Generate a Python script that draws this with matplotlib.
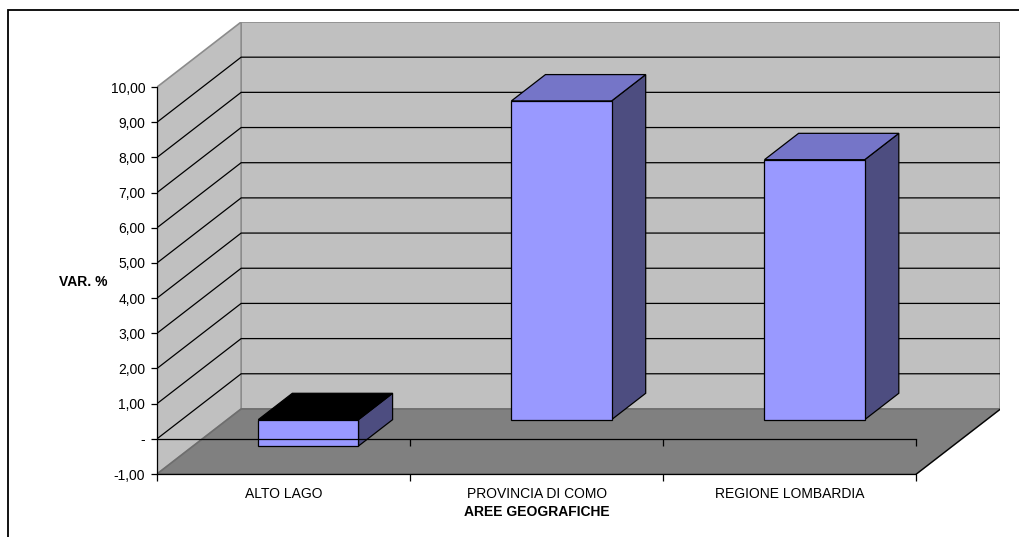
import numpy as np
import matplotlib.pyplot as plt
from matplotlib.patches import Polygon, Rectangle

categories = ['ALTO LAGO', 'PROVINCIA DI COMO', 'REGIONE LOMBARDIA']
values = [-0.75, 9.06, 7.39]
y_ticks = list(range(-1, 11))

# oblique shift of the full chart depth, in category / value units
DX = 84 / 252.67
DY = 65 / 35.15
D_FRONT, D_BACK = 0.295, 0.70
BAR_W = 0.396

WALL = '#C0C0C0'
FLOOR = '#808080'
FACE = '#9999FF'
SIDE = '#4D4D80'
TOP = '#7575C8'


def proj(x, v, d):
    return (x + d * DX, v + d * DY)


def fmt(v):
    if v == 0:
        return '-'
    return f'{v:.2f}'.replace('.', ',')


plt.rcParams['font.family'] = ['Liberation Sans', 'DejaVu Sans']
plt.rcParams['font.size'] = 10

fig = plt.figure(figsize=(10.2, 5.37), dpi=100)
ax = fig.add_axes([157 / 1020, 63 / 537, 843.5 / 1020, 452 / 537])
n = len(categories)
vmin, vmax = y_ticks[0], y_ticks[-1]
ax.set_xlim(0, n + DX)
ax.set_ylim(vmin, vmax + DY)
ax.patch.set_visible(False)

# walls and floor
back = [proj(0, vmin, 1), proj(n, vmin, 1), proj(n, vmax, 1), proj(0, vmax, 1)]
side = [proj(0, vmin, 0), proj(0, vmin, 1), proj(0, vmax, 1), proj(0, vmax, 0)]
floor = [proj(0, vmin, 0), proj(n, vmin, 0), proj(n, vmin, 1), proj(0, vmin, 1)]
ax.add_patch(Polygon(back, closed=True, fc=WALL, ec='#8C8C8C', lw=1.2, zorder=1))
ax.add_patch(Polygon(side, closed=True, fc=WALL, ec='#8C8C8C', lw=1.2, zorder=1))
ax.add_patch(Polygon(floor, closed=True, fc=FLOOR, ec='#6E6E6E', lw=1.2, zorder=1))
xr = [proj(n, vmin, 0)[0], proj(n, vmin, 1)[0]]
yr = [proj(n, vmin, 0)[1], proj(n, vmin, 1)[1]]
ax.plot(xr, yr, color='black', lw=0.9, zorder=2)

# gridlines on the back wall and the side wall
for v in y_ticks[1:-1]:
    p0, p1, p2 = proj(0, v, 0), proj(0, v, 1), proj(n, v, 1)
    ax.plot([p0[0], p1[0], p2[0]], [p0[1], p1[1], p2[1]], color='black', lw=0.9, zorder=2)

# columns
for i, v in enumerate(values):
    x0 = i + 0.5 - BAR_W / 2
    x1 = i + 0.5 + BAR_W / 2
    b, t = min(0, v), max(0, v)
    front = [proj(x0, b, D_FRONT), proj(x1, b, D_FRONT), proj(x1, t, D_FRONT), proj(x0, t, D_FRONT)]
    right = [proj(x1, b, D_FRONT), proj(x1, b, D_BACK), proj(x1, t, D_BACK), proj(x1, t, D_FRONT)]
    top = [proj(x0, t, D_FRONT), proj(x1, t, D_FRONT), proj(x1, t, D_BACK), proj(x0, t, D_BACK)]
    top_color = 'black' if v < 0 else TOP
    ax.add_patch(Polygon(right, closed=True, fc=SIDE, ec='black', lw=0.9, zorder=3))
    ax.add_patch(Polygon(top, closed=True, fc=top_color, ec='black', lw=0.9, zorder=3))
    ax.add_patch(Polygon(front, closed=True, fc=FACE, ec='black', lw=0.9, zorder=3))

# category axis at zero on the front plane
ax.plot([0, n], [0, 0], color='black', lw=0.9, zorder=4)
ax.vlines(np.arange(1, n + 1), -0.2, 0, color='black', lw=0.9, zorder=4)

# axes
for s in ['top', 'right']:
    ax.spines[s].set_visible(False)
ax.spines['left'].set_bounds(vmin, vmax)
ax.spines['bottom'].set_bounds(0, n)
ax.spines['left'].set_linewidth(0.9)
ax.spines['bottom'].set_linewidth(0.9)
ax.spines['left'].set_zorder(5)
ax.spines['bottom'].set_zorder(5)

ax.set_yticks(y_ticks)
ax.set_yticklabels([fmt(v) for v in y_ticks])
ax.tick_params(axis='y', direction='out', length=4.5, width=0.9, pad=4)

ax.set_xticks(np.arange(n + 1))
ax.set_xticklabels([])
ax.set_xticks(np.arange(n) + 0.5, minor=True)
ax.set_xticklabels(categories, minor=True)
ax.tick_params(axis='x', which='major', direction='out', length=5, width=0.9)
ax.tick_params(axis='x', which='minor', length=0, pad=9)

ax.set_xlabel('AREE GEOGRAFICHE', fontweight='bold', labelpad=3)
ax.xaxis.label.set_x((n / 2) / (n + DX))
ax.set_ylabel('VAR. %', fontweight='bold', rotation=0, ha='center', va='center')
ax.yaxis.set_label_coords(-0.088, 0.425)

# chart area border
fig.add_artist(Rectangle((8 / 1020, -0.05), 1.1, 1 - 10 / 537 + 0.05,
                         transform=fig.transFigure, fill=False, ec='black', lw=1.3))

fig.savefig('out.png', dpi=100)
